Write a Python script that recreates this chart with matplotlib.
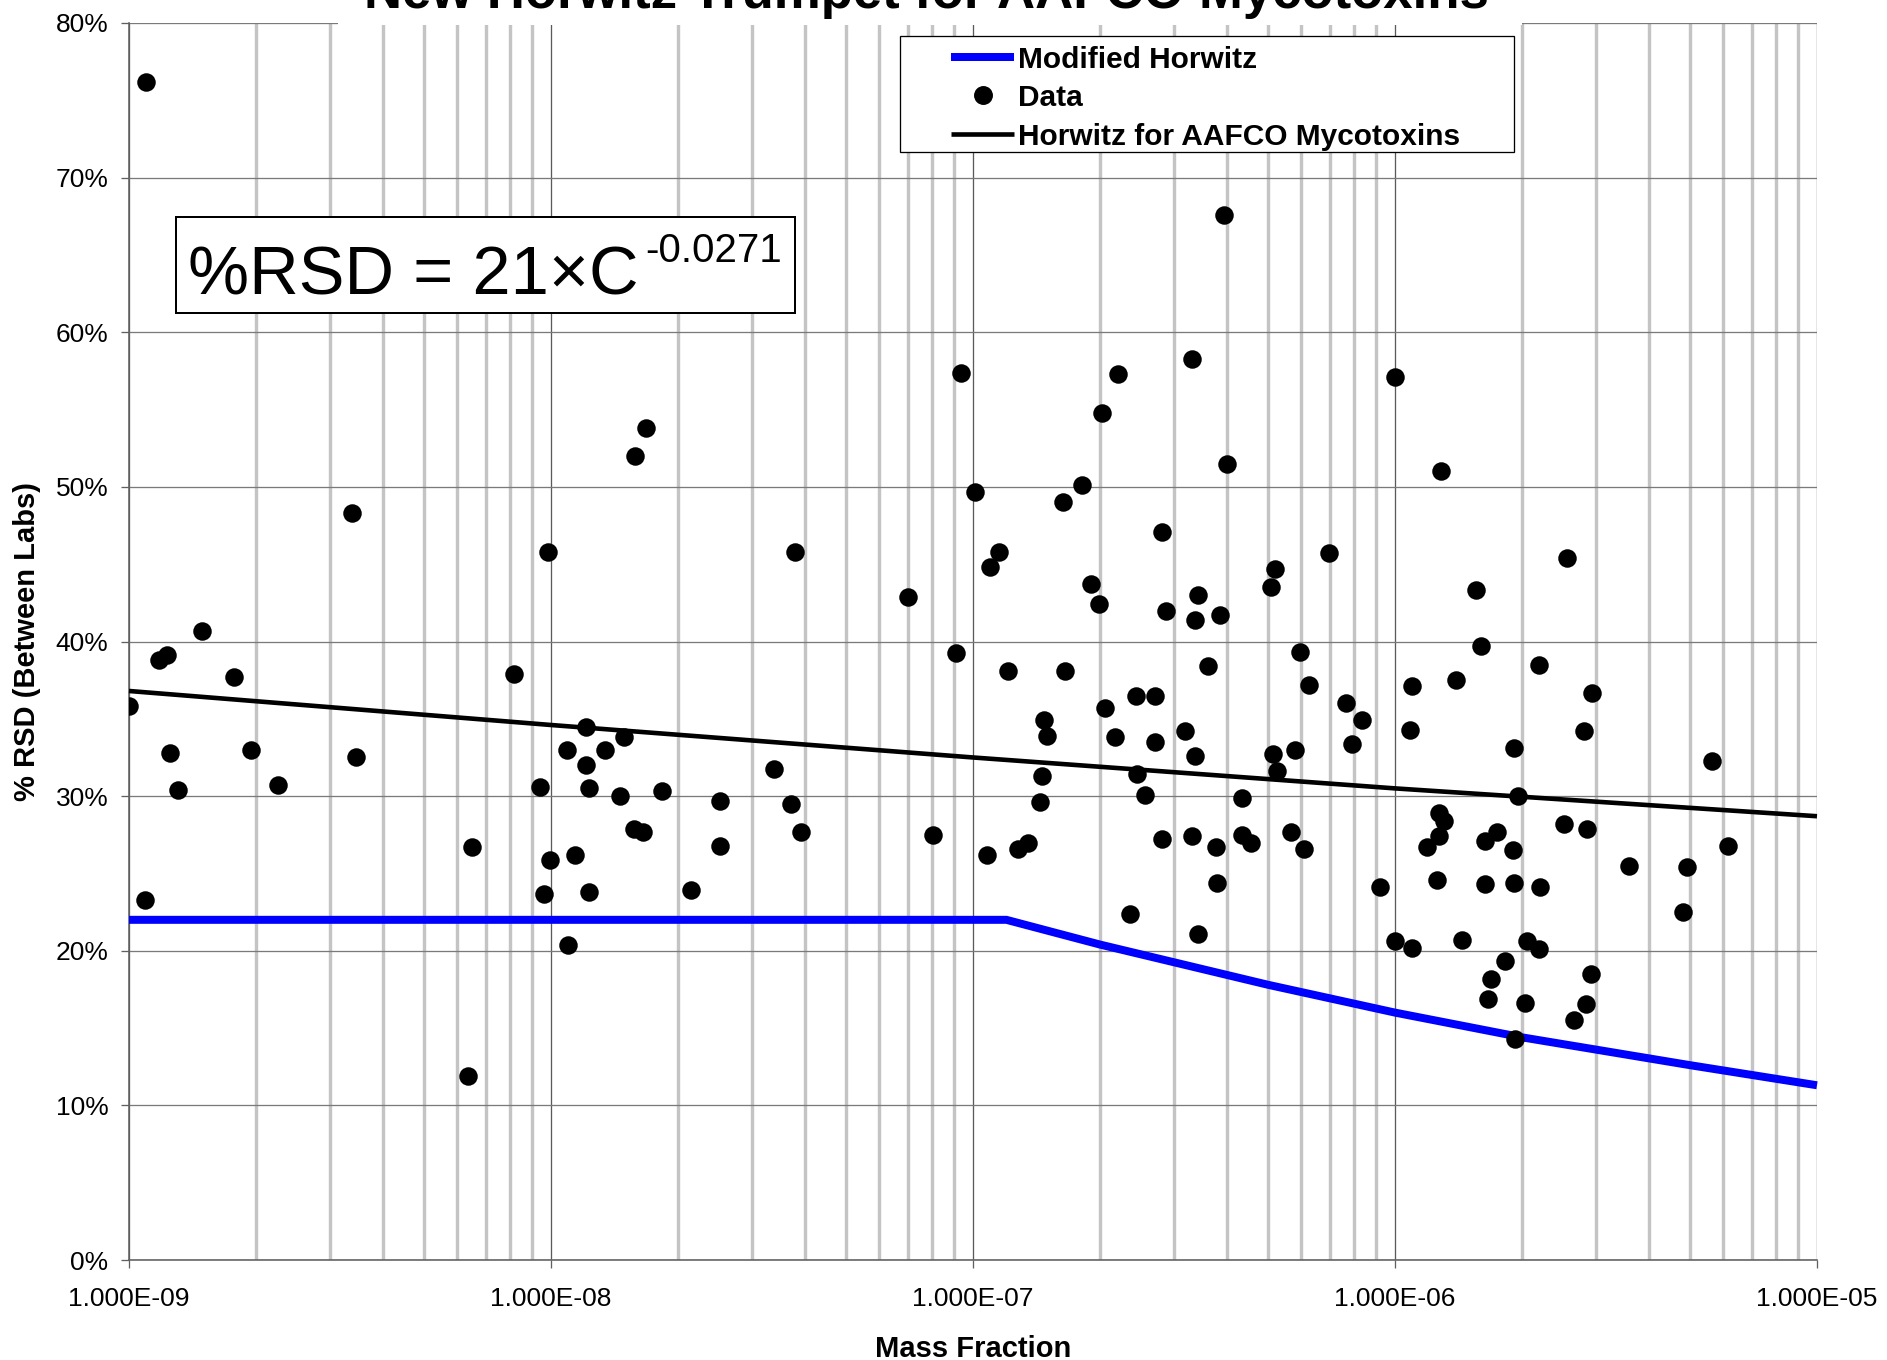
import matplotlib
matplotlib.use("Agg")
import matplotlib.pyplot as plt
from matplotlib.patches import Rectangle
from matplotlib.lines import Line2D

plt.rcParams['font.family'] = ['Liberation Sans', 'DejaVu Sans']

# ---------------- data ----------------
mass_fraction = [
    1.00e-9, 1.10e-9, 1.09e-9, 1.18e-9, 1.23e-9, 1.25e-9, 1.31e-9, 1.49e-9, 1.77e-9,
    1.95e-9, 2.25e-9, 3.37e-9, 3.45e-9, 6.35e-9, 6.49e-9, 8.16e-9, 9.42e-9, 9.61e-9,
    9.85e-9, 9.95e-9, 1.09e-8, 1.10e-8, 1.14e-8, 1.21e-8, 1.21e-8, 1.23e-8, 1.23e-8,
    1.345e-8, 1.46e-8, 1.49e-8, 1.58e-8, 1.57e-8, 1.65e-8, 1.68e-8, 1.83e-8, 2.15e-8,
    2.52e-8, 2.52e-8, 3.37e-8, 3.70e-8, 3.79e-8, 3.91e-8, 7.03e-8, 8.02e-8, 9.12e-8, 9.39e-8,
    1.01e-7, 1.08e-7, 1.10e-7, 1.15e-7, 1.21e-7, 1.28e-7, 1.35e-7, 1.47e-7, 1.50e-7,
    1.46e-7, 1.445e-7, 1.63e-7, 1.65e-7, 1.81e-7, 1.90e-7, 1.985e-7, 2.02e-7, 2.06e-7,
    2.17e-7, 2.20e-7, 2.35e-7, 2.43e-7, 2.45e-7, 2.56e-7, 2.70e-7, 2.70e-7, 2.81e-7,
    2.81e-7, 2.87e-7, 3.18e-7, 3.30e-7, 3.36e-7, 3.35e-7, 3.30e-7, 3.42e-7, 3.42e-7,
    3.60e-7, 3.76e-7, 3.78e-7, 3.84e-7, 3.93e-7, 4.00e-7, 4.34e-7, 4.34e-7, 4.56e-7,
    5.08e-7, 5.20e-7, 5.13e-7, 5.26e-7, 5.67e-7, 5.81e-7, 5.94e-7, 6.10e-7, 6.26e-7,
    6.97e-7, 7.67e-7, 7.92e-7, 8.36e-7, 9.21e-7,
    1.00e-6, 1.00e-6, 1.087e-6, 1.10e-6, 1.10e-6, 1.19e-6, 1.256e-6, 1.27e-6, 1.285e-6,
    1.27e-6, 1.31e-6, 1.395e-6, 1.44e-6, 1.56e-6, 1.60e-6, 1.63e-6, 1.63e-6, 1.665e-6,
    1.69e-6, 1.74e-6, 1.82e-6, 1.90e-6, 1.915e-6, 1.91e-6, 1.925e-6, 1.96e-6, 2.03e-6,
    2.05e-6, 2.19e-6, 2.19e-6, 2.20e-6, 2.51e-6, 2.55e-6, 2.66e-6, 2.81e-6, 2.83e-6,
    2.85e-6, 2.91e-6, 2.93e-6, 3.58e-6, 4.82e-6, 4.91e-6, 5.65e-6, 6.15e-6,
]
rsd_percent = [
    35.8, 76.2, 23.3, 38.8, 39.1, 32.8, 30.4, 40.7, 37.7,
    33.0, 30.7, 48.3, 32.5, 11.9, 26.7, 37.9, 30.6, 23.7,
    45.8, 25.9, 33.0, 20.4, 26.2, 34.5, 32.0, 30.5, 23.8,
    33.0, 30.0, 33.8, 52.0, 27.9, 27.7, 53.8, 30.3, 23.9,
    29.7, 26.8, 31.75, 29.5, 45.8, 27.7, 42.9, 27.5, 39.25, 57.35,
    49.7, 26.2, 44.8, 45.8, 38.1, 26.6, 27.0, 34.9, 33.9,
    31.3, 29.6, 49.0, 38.1, 50.1, 43.7, 42.4, 54.8, 35.7,
    33.85, 57.3, 22.4, 36.5, 31.4, 30.1, 36.5, 33.5, 47.1,
    27.2, 42.0, 34.2, 58.25, 41.4, 32.6, 27.4, 43.0, 21.1,
    38.4, 26.7, 24.4, 41.7, 67.6, 51.5, 29.9, 27.5, 26.95,
    43.5, 44.7, 32.7, 31.6, 27.7, 33.0, 39.3, 26.6, 37.2,
    45.7, 36.0, 33.4, 34.9, 24.1,
    57.1, 20.6, 34.3, 37.1, 20.2, 26.7, 24.6, 28.9, 51.0,
    27.4, 28.4, 37.5, 20.7, 43.3, 39.7, 27.1, 24.3, 16.9,
    18.2, 27.7, 19.35, 26.5, 33.1, 24.4, 14.3, 30.0, 16.6,
    20.6, 38.5, 20.1, 24.1, 28.2, 45.4, 15.5, 34.2, 16.55,
    27.9, 18.5, 36.7, 25.5, 22.5, 25.4, 32.25, 26.8,
]

# Horwitz for AAFCO Mycotoxins line
aafco_x = [1e-9, 1e-8, 1e-7, 1e-6, 1e-5]
aafco_y = [36.8, 34.6, 32.5, 30.5, 28.7]

# Modified Horwitz line
mod_x = [1e-9, 1.2e-7, 2e-7, 5e-7, 1e-6, 2e-6, 5e-6, 1e-5]
mod_y = [22.0, 22.0, 20.4, 17.8, 16.0, 14.4, 12.6, 11.3]

x_ticks = [1e-9, 1e-8, 1e-7, 1e-6, 1e-5]
x_tick_labels = ["1.000E-09", "1.000E-08", "1.000E-07", "1.000E-06", "1.000E-05"]
y_ticks = [0, 10, 20, 30, 40, 50, 60, 70, 80]
y_tick_labels = ["0%", "10%", "20%", "30%", "40%", "50%", "60%", "70%", "80%"]

title_text = "New Horwitz Trumpet for AAFCO Mycotoxins"
x_label = "Mass Fraction"
y_label = "% RSD (Between Labs)"
legend_labels = ["Modified Horwitz", "Data", "Horwitz for AAFCO Mycotoxins"]

# ---------------- figure ----------------
W, H = 1887, 1360
DPI = 100
fig = plt.figure(figsize=(W / DPI, H / DPI), dpi=DPI)
fig.patch.set_facecolor('white')

def fx(px):
    return px / W

def fy(py):
    return 1 - py / H

PT = 72.0 / DPI  # points per pixel

ax_l, ax_r, ax_t, ax_b = 129, 1817, 23, 1260
ax = fig.add_axes([fx(ax_l), fy(ax_b), (ax_r - ax_l) / W, (ax_b - ax_t) / H])

ax.set_xscale('log')
ax.set_xlim(1e-9, 1e-5)
ax.set_ylim(0, 80)

ax.set_xticks(x_ticks)
ax.set_xticklabels(x_tick_labels)
ax.set_yticks(y_ticks)
ax.set_yticklabels(y_tick_labels)
ax.xaxis.set_minor_locator(matplotlib.ticker.LogLocator(base=10, subs=range(2, 10), numticks=50))
ax.xaxis.set_minor_formatter(matplotlib.ticker.NullFormatter())

ax.tick_params(axis='x', which='major', direction='out', length=8 * PT, width=1.3 * PT,
               color='#606060', labelsize=19, pad=13.5)
ax.tick_params(axis='x', which='minor', length=0)
ax.tick_params(axis='y', which='major', direction='out', length=8 * PT, width=1.3 * PT,
               color='#606060', labelsize=19, pad=9)

ax.grid(True, which='major', axis='y', color='#7a7a7a', linewidth=1.3 * PT)
ax.grid(True, which='major', axis='x', color='#5a5a5a', linewidth=1.3 * PT)
ax.grid(True, which='minor', axis='x', color='#c4c4c4', linewidth=3.4 * PT)
ax.set_axisbelow(True)

for s in ['top', 'right']:
    ax.spines[s].set_visible(False)
for s in ['left', 'bottom']:
    ax.spines[s].set_color('#606060')
    ax.spines[s].set_linewidth(1.6 * PT)

# lines
ax.plot(mod_x, mod_y, color='#0000ff', linewidth=8 * PT, zorder=3, clip_on=False,
        solid_capstyle='butt', solid_joinstyle='miter')
ax.plot(aafco_x, aafco_y, color='black', linewidth=4.6 * PT, zorder=3, clip_on=False,
        solid_capstyle='butt')
# data
ax.scatter(mass_fraction, rsd_percent, s=(18.5 * PT) ** 2, color='black', zorder=4,
           linewidths=0)

# axis labels
ax.set_xlabel(x_label, fontsize=21, fontweight='bold')
ax.xaxis.set_label_coords(0.5, (ax_b - 1335) / (ax_b - ax_t))
ax.set_ylabel(y_label, fontsize=21, fontweight='bold')
ax.yaxis.set_label_coords((41.5 - ax_l) / (ax_r - ax_l), 0.5)

# title (partly cut off at the top edge, as in the original), with white band hiding the top gridline
fig.add_artist(Rectangle((fx(338), fy(24.5)), (1522 - 338) / W, 24.5 / H,
                         transform=fig.transFigure, facecolor='white', edgecolor='none',
                         zorder=2))
fig.text(fx(926), fy(8), title_text, fontsize=38, fontweight='bold', ha='center',
         va='baseline', zorder=3)

# equation box
fig.add_artist(Rectangle((fx(176), fy(312.5)), (795 - 176) / W, (312.5 - 216.5) / H,
                         transform=fig.transFigure, facecolor='white', edgecolor='black',
                         linewidth=2.0 * PT, zorder=2))
fig.text(fx(187.5), fy(294.6), "%RSD = 21×C", fontsize=49.4, ha='left', va='baseline',
         zorder=3)
fig.text(fx(645), fy(262.5), "-0.0271", fontsize=29, ha='left', va='baseline', zorder=3)

# legend (drawn manually to match the box geometry)
fig.add_artist(Rectangle((fx(900), fy(152)), (1514 - 900) / W, (152 - 36) / H,
                         transform=fig.transFigure, facecolor='white', edgecolor='black',
                         linewidth=1.3 * PT, zorder=2))
rows = [56.6, 95.3, 133.6]
fig.add_artist(Line2D([fx(951), fx(1014)], [fy(rows[0]), fy(rows[0])], color='#0000ff',
                      linewidth=8 * PT, transform=fig.transFigure, zorder=3,
                      solid_capstyle='butt'))
fig.add_artist(Line2D([fx(983)], [fy(rows[1])], marker='o', markersize=17.5 * PT,
                      color='black', linestyle='none', transform=fig.transFigure, zorder=3))
fig.add_artist(Line2D([fx(951), fx(1014)], [fy(rows[2]), fy(rows[2])], color='black',
                      linewidth=4.6 * PT, transform=fig.transFigure, zorder=3,
                      solid_capstyle='butt'))
for r, lab in zip(rows, legend_labels):
    fig.text(fx(1018), fy(r + 11), lab, fontsize=21.5, fontweight='bold', ha='left',
             va='baseline', zorder=3)

fig.savefig('out.png', dpi=DPI, facecolor='white')
